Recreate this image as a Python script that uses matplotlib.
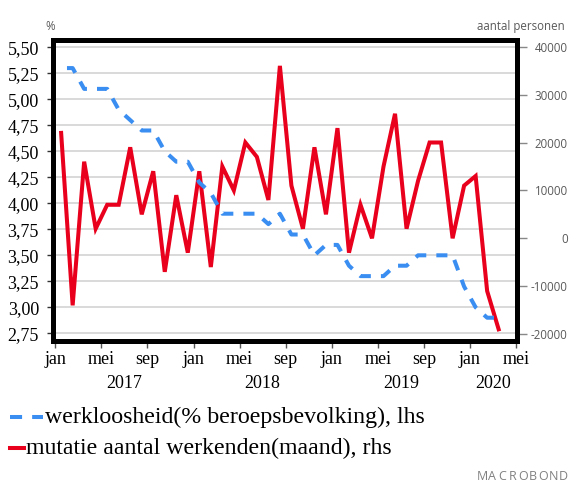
import numpy as np
import matplotlib
matplotlib.use('Agg')
import matplotlib.pyplot as plt
from matplotlib.lines import Line2D
from matplotlib.transforms import blended_transform_factory

# werkloosheid (% beroepsbevolking), jan 2017 - mrt 2020
unemployment = [5.3, 5.3, 5.1, 5.1, 5.1, 4.9, 4.8, 4.7, 4.7, 4.5, 4.4, 4.4,
                4.2, 4.1, 3.9, 3.9, 3.9, 3.9, 3.8, 3.9, 3.7, 3.7, 3.5, 3.6,
                3.6, 3.4, 3.3, 3.3, 3.3, 3.4, 3.4, 3.5, 3.5, 3.5, 3.5, 3.2,
                3.0, 2.9, 2.9]
# mutatie aantal werkenden per maand
jobs_change = [22000, -14000, 16000, 2000, 7000, 7000, 19000, 5000, 14000, -7000, 9000, -3000,
               14000, -6000, 15000, 10000, 20000, 17000, 8000, 36000, 11000, 2000, 19000, 5000,
               23000, -3000, 7000, 0, 15000, 26000, 2000, 12000, 20000, 20000, 0, 11000,
               13000, -11000, -19000]
month_ticks = ['jan', 'mei', 'sep', 'jan', 'mei', 'sep', 'jan', 'mei', 'sep', 'jan', 'mei']
years = ['2017', '2018', '2019', '2020']
year_centers = [6, 18, 30, 38]
left_ticks = [2.75, 3.0, 3.25, 3.5, 3.75, 4.0, 4.25, 4.5, 4.75, 5.0, 5.25, 5.5]
right_ticks = [-20000, -10000, 0, 10000, 20000, 30000, 40000]

BLUE = '#3a8ef2'
RED = '#e8001c'
GRAY = '#595959'
serif = 'Liberation Serif'
sans = 'Open Sans'

W, H = 577, 491
fig = plt.figure(figsize=(W / 100, H / 100), dpi=100)
ax = fig.add_axes([52.5 / W, 1 - 340.5 / H, 464 / W, 300.5 / H])
ax2 = ax.twinx()

x = np.arange(len(jobs_change)) + 0.5

ax2.plot(x, jobs_change, color=RED, lw=2.9, solid_joinstyle='miter', zorder=3)
ax.plot(x, unemployment, color=BLUE, lw=2.9, linestyle=(3.8, (2.75, 2.5)),
        dash_capstyle='butt', zorder=3)

# blue on top of red
ax.set_zorder(ax2.get_zorder() + 1)
ax.patch.set_visible(False)

ax.set_xlim(-0.25, 40.05)
ax.set_ylim(2.681, 5.570)
ax2.set_ylim(-21336, 41399)

# grid at the left-axis ticks, drawn underneath the red line
gtrans = blended_transform_factory(ax2.transAxes, ax.transData)
for v in left_ticks:
    ax2.add_line(Line2D([0, 1], [v, v], transform=gtrans, color='#cfcfcf', lw=1.1, zorder=1))

ax.set_yticks(left_ticks)
ax.set_yticklabels([f'{v:.2f}'.replace('.', ',') for v in left_ticks], fontfamily=serif, fontsize=13)
ax.tick_params(axis='y', length=4.3, width=1, color='#333333', pad=5.5)

ax.set_xticks(np.arange(0, 41, 4))
ax.set_xticklabels(month_ticks, fontfamily=serif, fontsize=13)
ax.tick_params(axis='x', length=4.7, width=1, color='#555555', pad=3)

ax2.set_yticks(right_ticks)
ax2.set_yticklabels([str(v) for v in right_ticks], fontfamily=sans, fontsize=8.3, color=GRAY, ha='right')
ax2.tick_params(axis='y', length=7.3, width=1, color='#888888', pad=29.5)

for a in (ax, ax2):
    for s in a.spines.values():
        s.set_linewidth(3.6)
        s.set_color('black')

ytr = blended_transform_factory(ax.transData, fig.transFigure)
for yr, c in zip(years, year_centers):
    ax.text(c, 1 - 384 / H, yr, transform=ytr, ha='center', va='center',
            fontfamily=serif, fontsize=13)

fig.text(50 / W, 1 - 26.7 / H, '%', ha='center', va='center', fontfamily=sans, fontsize=8.3, color=GRAY)
fig.text(565 / W, 1 - 26.7 / H, 'aantal personen', ha='right', va='center',
         fontfamily=sans, fontsize=8.3, color=GRAY)

# legend
fig.add_artist(Line2D([10 / W, 43 / W], [1 - 417 / H] * 2, color=BLUE, lw=2.9,
                      linestyle=(0, (3.0, 2.5)), dash_capstyle='butt'))
fig.text(45 / W, 1 - 417 / H, 'werkloosheid(% beroepsbevolking), lhs', ha='left', va='center',
         fontfamily=serif, fontsize=17.2)
fig.add_artist(Line2D([10 / W, 24 / W], [1 - 448 / H] * 2, color=RED, lw=2.9))
fig.text(26 / W, 1 - 448 / H, 'mutatie aantal werkenden(maand), rhs', ha='left', va='center',
         fontfamily=serif, fontsize=17.2)

# logo
for i, ch in enumerate('MACROBOND'):
    fig.text((477 + 5.1 + i * 10.2) / W, 1 - 476.7 / H, ch, ha='center', va='center',
             fontfamily=sans, fontsize=9, color='#808080')

fig.savefig('out.png', dpi=100)
